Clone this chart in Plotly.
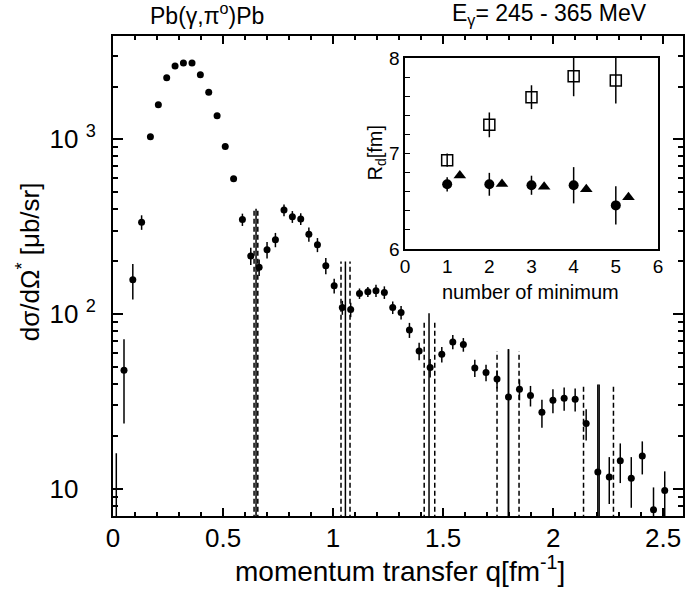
import plotly.graph_objects as go
import numpy as np

# ---- main data: Pb(gamma,pi0)Pb cross section ----
q = [0.015, 0.05, 0.09, 0.13, 0.17, 0.206, 0.244, 0.282, 0.32, 0.359, 0.397, 0.435,
     0.473, 0.51, 0.548, 0.588, 0.626, 0.664, 0.70, 0.738, 0.777, 0.815, 0.853, 0.89,
     0.929, 0.967, 1.005, 1.042, 1.08, 1.12, 1.158, 1.195, 1.233, 1.271, 1.309, 1.347,
     1.391, 1.441, 1.494, 1.544, 1.592, 1.644, 1.695, 1.745, 1.797, 1.847, 1.897, 1.949,
     1.999, 2.05, 2.10, 2.15, 2.203, 2.255, 2.305, 2.355, 2.405, 2.456, 2.507]
xsec = [5, 47.7, 157, 335, 1031, 1574, 2243, 2617, 2724, 2724, 2333, 1854,
        1361, 908, 594, 347, 215, 185, 233, 266, 393, 360, 350, 286,
        249, 189, 145, 109, 106, 131, 134, 136, 133, 109, 102, 81,
        61.5, 49.4, 58.9, 69.3, 66.9, 49.2, 46.3, 42.5, 33.5, 37.1, 34.2, 27.4,
        32.1, 33.0, 32.6, 23.7, 12.5, 11.7, 14.5, 11.5, 15.4, 7.6, 9.8]
xsec_err = [11, 24, 36, 32, 40, 50, 60, 70, 70, 70, 60, 50,
            40, 30, 22, 28, 24, 20, 25, 25, 30, 28, 27, 27,
            23, 20, 14, 10, 10, 9, 9, 11, 11, 9, 9, 8,
            7, 6, 6, 6.5, 6, 5.5, 5, 5, 29.5, 5, 4.6, 5,
            5, 5, 4.9, 4.8, 27, 3.5, 3.7, 3.7, 3.3, 2.6, 2.8]

# diffraction minima positions (solid) with uncertainty band (dashed)
min_q = [0.650, 1.056, 1.436, 1.797, 2.209]
min_lo = [0.641, 1.036, 1.414, 1.745, 2.138]
min_hi = [0.658, 1.077, 1.462, 1.845, 2.274]
min_top = [400, 200, 101, 63, 39.5]
band_top = [400, 200, 91, 61, 39.5]
line_bottom = 1.0

# ---- inset data ----
n_min = [1, 2, 3, 4, 5]
rd_sq = [6.93, 7.30, 7.59, 7.81, 7.765]
rd_sq_err = [0.07, 0.13, 0.125, 0.21, 0.24]
rd_circ = [6.677, 6.677, 6.667, 6.667, 6.456]
rd_circ_err = [0.075, 0.12, 0.10, 0.19, 0.20]
n_tri = [1.3, 2.3, 3.3, 4.3, 5.3]
rd_tri = [6.77, 6.68, 6.65, 6.625, 6.54]

x_tickvals = [0, 0.5, 1, 1.5, 2, 2.5]
x_ticktext = ["0", "0.5", "1", "1.5", "2", "2.5"]
y_tickvals = [10, 100, 1000]
y_ticktext = ["10<span style='color:rgba(0,0,0,0)'> <sup>0</sup></span>",
              "10 <sup>2</sup>", "10 <sup>3</sup>"]
y_minor = [7, 8, 9] + [m * 10 for m in range(2, 10)] + [m * 100 for m in range(2, 10)] + [2000, 3000]

FONT = "Liberation Sans, Arial, Helvetica, sans-serif"
fig = go.Figure()

# vertical minimum lines
for i in range(len(min_q)):
    fig.add_trace(go.Scatter(x=[min_q[i], min_q[i]], y=[line_bottom, min_top[i]], mode="lines",
                             line=dict(color="black", width=1.5), showlegend=False, hoverinfo="skip"))
    for xb in (min_lo[i], min_hi[i]):
        fig.add_trace(go.Scatter(x=[xb, xb], y=[line_bottom, band_top[i]], mode="lines",
                                 line=dict(color="black", width=1.5, dash="5px,3px"),
                                 showlegend=False, hoverinfo="skip"))

fig.add_trace(go.Scatter(x=q, y=xsec, mode="markers",
                         marker=dict(color="black", size=7),
                         error_y=dict(type="data", array=xsec_err, visible=True,
                                      color="black", thickness=1.5, width=0),
                         showlegend=False))

# inset traces
fig.add_trace(go.Scatter(x=n_min, y=rd_sq, mode="markers", xaxis="x2", yaxis="y2",
                         marker=dict(symbol="square-open", color="black", size=11,
                                     line=dict(width=1.5, color="black")),
                         error_y=dict(type="data", array=rd_sq_err, color="black",
                                      thickness=1.5, width=0),
                         showlegend=False))
fig.add_trace(go.Scatter(x=n_min, y=rd_circ, mode="markers", xaxis="x2", yaxis="y2",
                         marker=dict(symbol="circle", color="black", size=10),
                         error_y=dict(type="data", array=rd_circ_err, color="black",
                                      thickness=1.5, width=0),
                         showlegend=False))
fig.add_trace(go.Scatter(x=n_tri, y=rd_tri, mode="markers", xaxis="x2", yaxis="y2",
                         marker=dict(symbol="triangle-up", color="black", size=11),
                         showlegend=False))

fig.update_layout(
    width=700, height=592,
    margin=dict(l=113, r=17, t=36, b=76),
    paper_bgcolor="white", plot_bgcolor="white",
    font=dict(family=FONT, color="black"),
    xaxis=dict(range=[0, 2.59], tickmode="array", tickvals=x_tickvals, ticktext=x_ticktext,
               ticks="inside", ticklen=8, tickwidth=1.5, tickcolor="black",
               showline=True, linewidth=2, linecolor="black", mirror="allticks",
               showgrid=False, zeroline=False, tickfont=dict(size=26),
               ticklabelstandoff=-2,
               minor=dict(dtick=0.1, ticks="inside", ticklen=4, tickwidth=1.5, tickcolor="black")),
    yaxis=dict(type="log", range=[np.log10(7), 3.59], tickmode="array",
               tickvals=y_tickvals, ticktext=y_ticktext,
               ticks="inside", ticklen=10, tickwidth=1.5, tickcolor="black",
               showline=True, linewidth=2, linecolor="black", mirror="allticks",
               showgrid=False, zeroline=False, tickfont=dict(size=26),
               ticklabelstandoff=10,
               minor=dict(tickmode="array", tickvals=y_minor, ticks="inside", ticklen=5,
                          tickwidth=1.5, tickcolor="black")),
    xaxis2=dict(domain=[0.5123, 0.9561], anchor="y2", range=[0, 6], dtick=1,
                ticks="", showline=True, linewidth=1.5, linecolor="black", mirror=True,
                showgrid=False, zeroline=False, tickfont=dict(size=19)),
    yaxis2=dict(domain=[0.5565, 0.954], anchor="x2", range=[6, 8], dtick=1,
                ticks="inside", ticklen=5, tickwidth=1, tickcolor="black",
                showline=True, linewidth=1.5, linecolor="black", mirror=True,
                showgrid=False, zeroline=False, tickfont=dict(size=19),
                minor=dict(dtick=0.2, ticks="inside", ticklen=5, tickwidth=1, tickcolor="black")),
    annotations=[
        dict(text="Pb(γ,π<sup>o</sup>)Pb", xref="paper", yref="paper", x=0.165, y=1.045,
             showarrow=False, font=dict(size=23), xanchor="center", yanchor="middle"),
        dict(text="E<sub>γ</sub>= 245 - 365 MeV", xref="paper", yref="paper", x=0.765, y=1.045,
             showarrow=False, font=dict(size=23), xanchor="center", yanchor="middle"),
        dict(text="dσ/dΩ<sup>*</sup> [μb/sr]", xref="paper", yref="paper", x=-0.148, y=0.53,
             showarrow=False, font=dict(size=26), textangle=-90, xanchor="center", yanchor="middle"),
        dict(text="momentum transfer q[fm<sup>-1</sup>]", xref="paper", yref="paper", x=0.503, y=-0.11,
             showarrow=False, font=dict(size=28), xanchor="center", yanchor="middle"),
        dict(text="number of minimum", xref="paper", yref="paper", x=0.733, y=0.4665,
             showarrow=False, font=dict(size=20), xanchor="center", yanchor="middle"),
        dict(text="R<sub>d</sub>[fm]", xref="paper", yref="paper", x=0.463, y=0.757,
             showarrow=False, font=dict(size=20), textangle=-90, xanchor="center", yanchor="middle"),
    ],
)

fig.write_html("out.html", config={"displayModeBar": False},
               post_script="document.body.style.margin='0px';")
